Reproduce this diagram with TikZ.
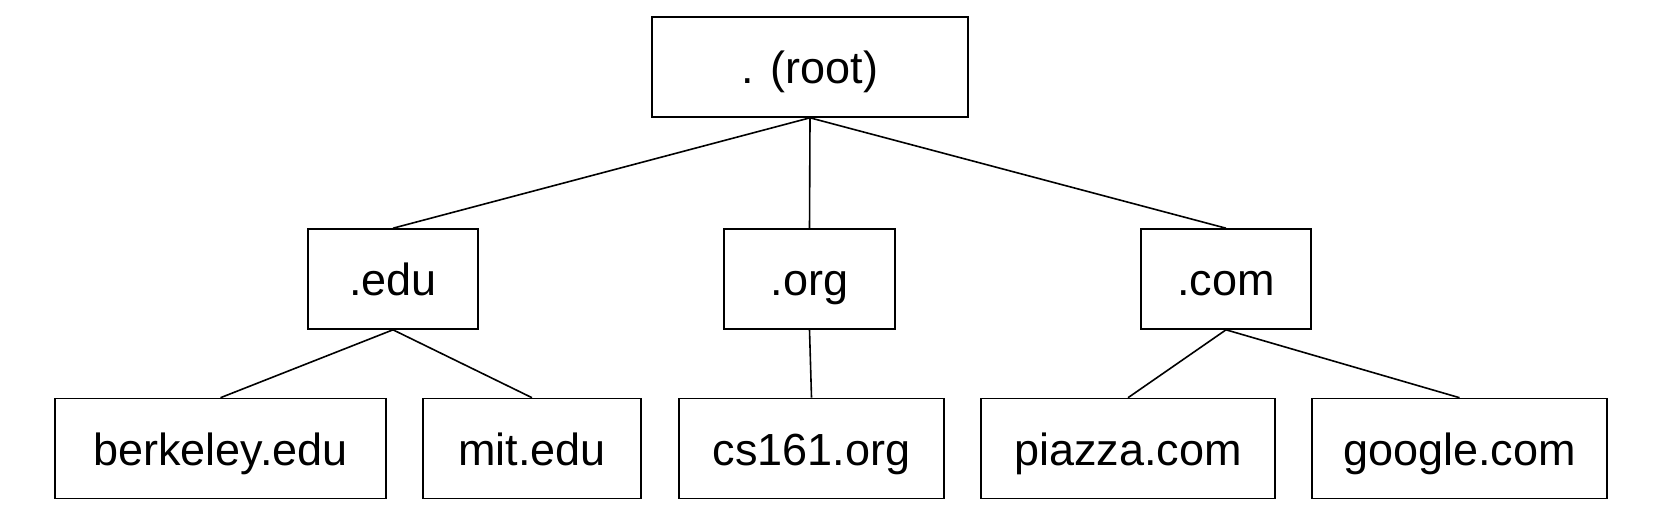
\documentclass[tikz,border=0pt]{standalone}
\usepackage{fontspec}
\setmainfont{Liberation Sans}
\usepackage{tikz}
\usetikzlibrary{positioning}

\begin{document}
\begin{tikzpicture}[x=0.5pt,y=-0.5pt,
    dnsbox/.style={draw, line width=0.8pt, rectangle, inner sep=0pt,
      minimum height=50pt, text height=16.5pt, text depth=0pt,
      font=\fontsize{22.5}{26}\selectfont},
    dnsedge/.style={line width=0.8pt}]
      \useasboundingbox (0,0) rectangle (1673,510);
      % Root
      \node[dnsbox, minimum width=158pt] (root) at (810,67) {. (root)};
      % Top-level domains
      \node[dnsbox, minimum width=85pt] (edu) at (393,279) {.edu};
      \node[dnsbox, minimum width=85.5pt] (org) at (809.5,279) {.org};
      \node[dnsbox, minimum width=85pt] (com) at (1226,279) {.com};
      % Second-level domains
      \node[dnsbox, minimum width=165.5pt] (berkeley) at (220.5,448.5) {berkeley.edu};
      \node[dnsbox, minimum width=109pt] (mit) at (532,448.5) {mit.edu};
      \node[dnsbox, minimum width=132.5pt] (cs) at (811.5,448.5) {cs161.org};
      \node[dnsbox, minimum width=147pt] (piazza) at (1128,448.5) {piazza.com};
      \node[dnsbox, minimum width=147.5pt] (google) at (1459.5,448.5) {google.com};
      % Edges
      \draw[dnsedge] (root.south) -- (edu.north);
      \draw[dnsedge] (root.south) -- (org.north);
      \draw[dnsedge] (root.south) -- (com.north);
      \draw[dnsedge] (edu.south) -- (berkeley.north);
      \draw[dnsedge] (edu.south) -- (mit.north);
      \draw[dnsedge] (org.south) -- (cs.north);
      \draw[dnsedge] (com.south) -- (piazza.north);
      \draw[dnsedge] (com.south) -- (google.north);
    \end{tikzpicture}
\end{document}
